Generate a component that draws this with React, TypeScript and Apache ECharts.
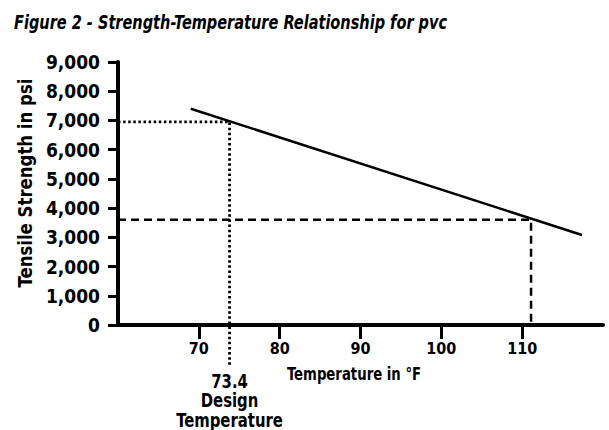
import React, { useEffect, useRef } from "react";
import * as echarts from "echarts";

const titleText = "Figure 2 - Strength-Temperature Relationship for pvc";
const yAxisName = "Tensile Strength in psi";
const xAxisName = "Temperature in °F";
const xTickValues = [70, 80, 90, 100, 110];
const strengthLine = [
  [69.0, 7400],
  [117.4, 3080],
];
const designTemp = 73.8;
const designTempLabel = "73.4";
const designLabelLines = [designTempLabel, "Design", "Temperature"];
const designStrength = 6950;
const maxTemp = 111.1;
const maxTempStrength = 3600;
const dottedBottom = -1370;

const FONT = '"DejaVu Sans Condensed", "DejaVu Sans", sans-serif';

export default function App() {
  const ref = useRef<HTMLDivElement>(null);
  useEffect(() => {
    if (!ref.current) return;
    const chart = echarts.init(ref.current, null, { renderer: "svg" });
    chart.setOption({
      animation: false,
      backgroundColor: "#ffffff",
      grid: { left: 118, right: 6, top: 62, bottom: 105, containLabel: false },
      xAxis: {
        type: "value",
        min: 60,
        max: 120,
        interval: 10,
        splitLine: { show: false },
        axisLine: { show: true, lineStyle: { color: "#000", width: 4 } },
        axisTick: {
          show: true,
          customValues: xTickValues,
          length: 14,
          lineStyle: { color: "#000", width: 3 },
        },
        axisLabel: {
          customValues: xTickValues,
          margin: 15,
          fontFamily: FONT,
          fontSize: 16,
          fontWeight: "bold",
          color: "#000",
        },
      },
      yAxis: {
        type: "value",
        min: 0,
        max: 9000,
        interval: 1000,
        splitLine: { show: false },
        axisLine: { show: true, lineStyle: { color: "#000", width: 4 } },
        axisTick: { show: true, length: 10, lineStyle: { color: "#000", width: 3 } },
        axisLabel: {
          margin: 18,
          fontFamily: FONT,
          fontSize: 19,
          fontWeight: "bold",
          color: "#000",
          formatter: (v: number) => v.toLocaleString("en-US"),
        },
      },
      series: [
        {
          type: "line",
          data: strengthLine,
          symbol: "none",
          lineStyle: { color: "#000", width: 2.5 },
          z: 5,
        },
        {
          type: "line",
          clip: false,
          symbol: "none",
          data: [
            [60, designStrength],
            [designTemp, designStrength],
            [designTemp, dottedBottom],
          ],
          lineStyle: { color: "#000", width: 2.8, type: [2.5, 2.6] },
        },
        {
          type: "line",
          symbol: "none",
          data: [
            [60, maxTempStrength],
            [maxTemp, maxTempStrength],
            [maxTemp, 0],
          ],
          lineStyle: { color: "#000", width: 2.5, type: [8, 5] },
        },
      ],
    });

    const labelPt = chart.convertToPixel({ gridIndex: 0 }, [designTemp, dottedBottom]) as number[];
    const xNamePt = chart.convertToPixel({ gridIndex: 0 }, [89.2, 0]) as number[];

    chart.setOption({
      graphic: [
        {
          type: "text",
          x: 14,
          y: 13,
          scaleX: 0.85,
          style: {
            text: titleText,
            fontFamily: FONT,
            fontSize: 19,
            fontWeight: "bold",
            fontStyle: "italic",
            fill: "#000",
            align: "left",
            verticalAlign: "top",
          },
        },
        {
          type: "text",
          x: 25,
          y: 183,
          rotation: Math.PI / 2,
          scaleX: 0.92,
          style: {
            text: yAxisName,
            fontFamily: FONT,
            fontSize: 20,
            fontWeight: "bold",
            fill: "#000",
            align: "center",
            verticalAlign: "middle",
          },
        },
        {
          type: "text",
          x: xNamePt[0],
          y: xNamePt[1] + 40,
          scaleX: 0.82,
          style: {
            text: xAxisName,
            fontFamily: FONT,
            fontSize: 18,
            fontWeight: "bold",
            fill: "#000",
            align: "center",
            verticalAlign: "top",
          },
        },
        {
          type: "text",
          x: labelPt[0],
          y: labelPt[1] + 6,
          scaleX: 0.87,
          style: {
            text: designLabelLines.join("\n"),
            fontFamily: FONT,
            fontSize: 19,
            lineHeight: 19.5,
            fontWeight: "bold",
            fill: "#000",
            align: "center",
            verticalAlign: "top",
          },
        },
      ],
    });
    return () => chart.dispose();
  }, []);
  return <div ref={ref} style={{ width: 609, height: 430, position: "absolute", left: 0, top: 0 }} />;
}
